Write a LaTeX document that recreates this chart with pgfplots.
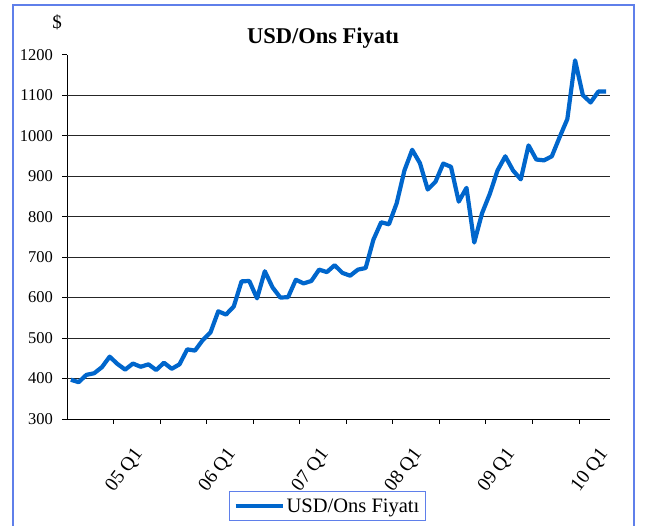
\documentclass[border=0pt]{standalone}
\usepackage{fontspec}
\setmainfont{Liberation Serif}
\usepackage{pgfplots}
\usepackage{pgfplotstable}
\pgfplotsset{compat=1.18}
\definecolor{goldblue}{HTML}{0066CC}
\definecolor{frameblue}{HTML}{5F7FEA}

% monthly USD/ounce price, Jul 2004 .. Apr 2010 (index 0..69)
\pgfplotstableread{
i v
0 397
1 391
2 409
3 413
4 428
5 454
6 436
7 422
8 437
9 429
10 435
11 421
12 439
13 424
14 435
15 472
16 469
17 495
18 514
19 566
20 558
21 578
22 640
23 641
24 598
25 665
26 625
27 600
28 601
29 644
30 635
31 641
32 669
33 663
34 680
35 661
36 654
37 669
38 673
39 743
40 786
41 781
42 833
43 914
44 965
45 932
46 867
47 886
48 931
49 923
50 837
51 871
52 736
53 808
54 856
55 914
56 949
57 914
58 892
59 976
60 941
61 939
62 949
63 996
64 1041
65 1186
66 1100
67 1082
68 1109
69 1109
}\goldtable

\begin{document}
\begin{tikzpicture}
\useasboundingbox (0pt,0pt) rectangle (645pt,526pt);
\draw[frameblue, line width=1.2pt] (13pt,-10pt) rectangle (634pt,521pt);
\node[anchor=base, font=\fontsize{22.5}{26}\selectfont\bfseries] at (323pt,482.7pt) {USD/Ons Fiyatı};
\node[anchor=base, font=\fontsize{19}{22}\selectfont] at (57pt,497pt) {\$};
\begin{axis}[
  at={(67pt,107pt)}, anchor=south west,
  scale only axis, width=543pt, height=364.3pt,
  xmin=-0.5, xmax=69.5,
  ymin=300, ymax=1200,
  axis lines*=left,
  axis line style={black, line width=0.8pt},
  tick style={black, line width=0.8pt},
  tick align=outside,
  major tick length=5pt,
  xtick={5.5,11.5,...,65.5},
  xticklabels={05 Q1,,06 Q1,,07 Q1,,08 Q1,,09 Q1,,10 Q1},
  ytick={300,400,...,1200},
  extra y ticks={400,500,...,1100},
  extra y tick labels={},
  extra y tick style={major tick length=0pt, grid=major},
  major grid style={black!85, line width=0.8pt},
  /pgf/number format/assume math mode=true,
  /pgf/number format/1000 sep={},
  yticklabel style={font=\fontsize{16.5}{18}\selectfont, anchor=east, inner sep=0pt, xshift=-9pt},
  xticklabel style={font=\fontsize{19.5}{21}\selectfont, anchor=north east, inner sep=0pt, xshift=19pt, yshift=-22pt, rotate=53},
  legend style={at={(0.2983,-0.1976)}, anchor=north west,
    draw=frameblue, line width=1pt, fill=white,
    font=\fontsize{20.5}{23}\selectfont,
    inner xsep=4pt, inner ysep=5pt},
  legend cell align=left,
  legend image code/.code={\draw[#1] (0pt,0pt) -- (47pt,0pt);},
  clip=false,
]
\addplot[color=goldblue, line width=4.2pt, line join=round] table[x=i, y=v] {\goldtable};
\addlegendentry{USD/Ons Fiyatı}
\end{axis}
\end{tikzpicture}
\end{document}
